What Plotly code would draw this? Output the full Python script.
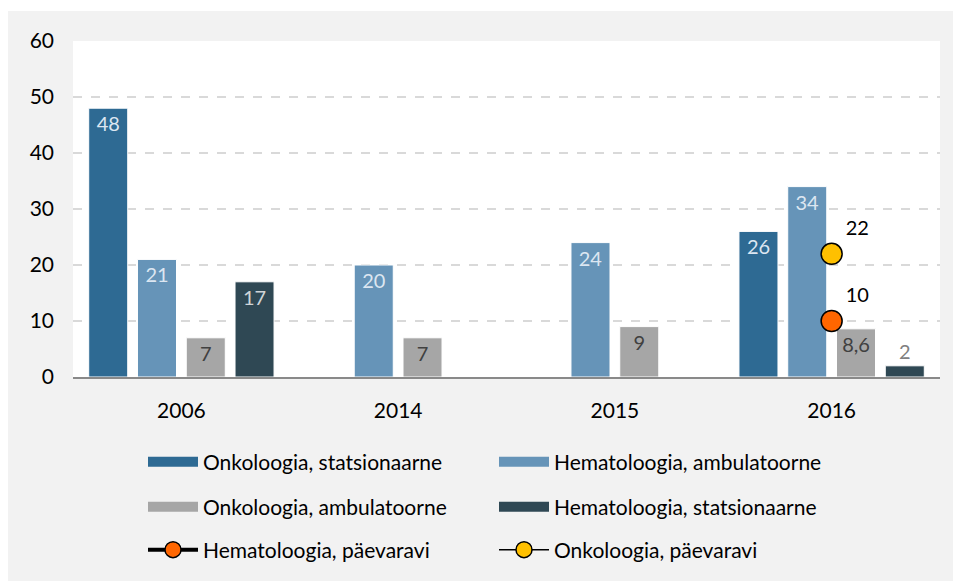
import plotly.graph_objects as go

years = ["2006", "2014", "2015", "2016"]
onk_stat = [48, None, None, 26]
hem_amb = [21, 20, 24, 34]
onk_amb = [7, 7, 9, 8.6]
hem_stat = [17, None, None, 2]
hem_paev_x = ["2016"]
hem_paev = [10]
onk_paev_x = ["2016"]
onk_paev = [22]
y_ticks = [0, 10, 20, 30, 40, 50, 60]

FONT = "Lato"


def lab(vals):
    return ["" if v is None else (f"{v:g}".replace(".", ",")) for v in vals]


fig = go.Figure()

bar_specs = [
    ("Onkoloogia, statsionaarne", onk_stat, "#2e6a93", "#dce6f1", "legend"),
    ("Hematoloogia, ambulatoorne", hem_amb, "#6694b8", "#dce6f1", "legend"),
    ("Onkoloogia, ambulatoorne", onk_amb, "#a6a6a6", "#404040", "legend2"),
    ("Hematoloogia, statsionaarne", hem_stat, "#2f4854", "#d0d5d8", "legend2"),
]
for name, vals, col, tcol, lg in bar_specs:
    pos = ["outside" if (v is not None and v < 4) else "inside" for v in vals]
    fig.add_trace(go.Bar(
        name=name, x=years, y=vals, text=lab(vals), textposition=pos,
        insidetextanchor="end", textangle=0,
        insidetextfont=dict(family=FONT, size=20, color=tcol),
        outsidetextfont=dict(family=FONT, size=20, color="#808080"),
        marker=dict(color=col, line=dict(color="white", width=1)),
        showlegend=False, hoverinfo="skip", cliponaxis=False,
    ))

# legend-only entries drawn as wide bar swatches (single point: no line drawn)
for name, vals, col, tcol, lg in bar_specs:
    fig.add_trace(go.Scatter(
        name=name, x=years[:1], y=[0], mode="lines",
        line=dict(color=col, width=12), legend=lg, hoverinfo="skip",
    ))

fig.add_trace(go.Scatter(
    name="Hematoloogia, päevaravi", x=hem_paev_x, y=hem_paev,
    mode="lines+markers+text", text=lab(hem_paev), textposition="top right",
    textfont=dict(family=FONT, size=20, color="#000000"),
    line=dict(color="#000000", width=4),
    marker=dict(color="#ff6600", size=21, line=dict(color="#000000", width=1.5)),
    legend="legend3", hoverinfo="skip", cliponaxis=False,
))
fig.add_trace(go.Scatter(
    name="Onkoloogia, päevaravi", x=onk_paev_x, y=onk_paev,
    mode="lines+markers+text", text=lab(onk_paev), textposition="top right",
    textfont=dict(family=FONT, size=20, color="#000000"),
    line=dict(color="#000000", width=1.5),
    marker=dict(color="#ffc000", size=21, line=dict(color="#000000", width=1.5)),
    legend="legend3", hoverinfo="skip", cliponaxis=False,
))

PW = 867.0
PH = 337.0


def px_x(v):
    return (v - 73) / PW


def px_y(v):
    return (378 - v) / PH


leg_common = dict(orientation="h", xanchor="left", yanchor="middle",
                  x=px_x(143), entrywidth=286, itemwidth=50,
                  font=dict(family=FONT, size=21, color="#000000"),
                  bgcolor="rgba(0,0,0,0)", traceorder="normal")

fig.update_layout(
    width=953, height=581,
    margin=dict(l=73, r=13, t=41, b=203),
    paper_bgcolor="white", plot_bgcolor="white",
    barmode="group", bargap=0.1, bargroupgap=0.2,
    font=dict(family=FONT, size=21, color="#000000"),
    showlegend=True,
    legend=dict(**leg_common, y=px_y(462)),
    legend2=dict(**leg_common, y=px_y(507)),
    legend3=dict(**leg_common, y=px_y(550)),
    xaxis=dict(type="category", categoryorder="array", categoryarray=years,
               showline=True, linecolor="#898989", linewidth=2,
               showgrid=False, ticks="", ticklabelstandoff=14,
               tickfont=dict(family=FONT, size=21, color="#000000")),
    yaxis=dict(range=[0, 60], tickvals=y_ticks, showgrid=True,
               gridcolor="#d9d9d9", griddash="dash", gridwidth=1.5,
               zeroline=False, showline=False, ticks="",
               ticklabelstandoff=18,
               tickfont=dict(family=FONT, size=21, color="#000000")),
    shapes=[
        dict(type="rect", xref="paper", yref="paper", layer="below",
             x0=px_x(8), x1=px_x(960), y0=px_y(600), y1=px_y(11),
             fillcolor="#f2f2f2", line=dict(width=0)),
        dict(type="rect", xref="paper", yref="paper", layer="below",
             x0=0, x1=1, y0=0, y1=1,
             fillcolor="white", line=dict(width=0)),
    ],
)

fig.write_html("out.html", config={"displayModeBar": False},
               post_script="document.body.style.margin='0';document.body.style.overflow='hidden';")
